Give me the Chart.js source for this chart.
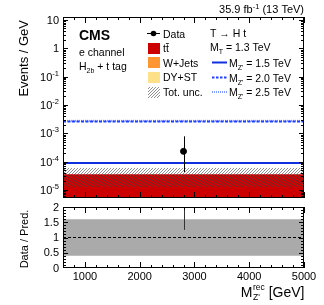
<!DOCTYPE html>
<html>
<head>
<meta charset="utf-8">
<script src="https://cdn.jsdelivr.net/npm/chart.js@4.4.0/dist/chart.umd.min.js"></script>
<style>
  html, body { margin: 0; padding: 0; background: #fff; }
  #wrap { position: relative; width: 324px; height: 305px; }
  #mainCanvas { position: absolute; left: 0; top: 0; }
  #ratioCanvas { position: absolute; left: 0; top: 203px; }
</style>
</head>
<body>
<div id="wrap">
  <canvas id="mainCanvas" width="324" height="203"></canvas>
  <canvas id="ratioCanvas" width="324" height="102"></canvas>
</div>
<script>
// binning (single bin) and values in events / GeV
var binEdges = [600, 5000];
var dyst = [5.4e-6];
var wjets = [1.0e-7];
var ttbar = [3.05e-5];
var uncLow = [1.27e-5];
var uncHigh = [5.9e-5];
var sig1500 = [8.9e-5];
var sig2000 = [2.6e-3];
var sig2500 = [2.75e-3];

var dataX = [2800];
var dataY = [2.3e-4];
var dataErrLo = [4.3e-5];
var dataErrHi = [7.8e-4];

var ratioY = [6.0];
var ratioErrLo = [1.25];
var ratioBandLo = [0.4];
var ratioBandHi = [1.6];

var yTickValues = [1e-5, 1e-4, 1e-3, 1e-2, 1e-1, 1, 10];
var yTickExp = ["-5", "-4", "-3", "-2", "-1", "", ""];
var yTickBase = ["10", "10", "10", "10", "10", "1", "10"];
var xTickValues = [1000, 2000, 3000, 4000, 5000];
var xTickLabels = ["1000", "2000", "3000", "4000", "5000"];
var rTickValues = [0, 0.5, 1, 1.5, 2];
var rTickLabels = ["0", "0.5", "1", "1.5", "2"];

var FONT = "'Liberation Sans', Arial, sans-serif";
Chart.defaults.font.family = FONT;
Chart.defaults.color = "#000";

function histPoints(vals) {
	var pts = [];
	for (var i = 0; i < vals.length; i++) {
		pts.push({x: binEdges[i], y: vals[i]});
		pts.push({x: binEdges[i + 1], y: vals[i]});
	}
	return pts;
}
function addArr(a, b) {
	return a.map(function(v, i){ return v + b[i]; });
}

var cumDy = dyst;
var cumW = addArr(cumDy, wjets);
var cumTt = addArr(cumW, ttbar);

// hatch pattern for total uncertainty
var pc = document.createElement('canvas');
pc.width = 3; pc.height = 3;
var pctx = pc.getContext('2d');
pctx.fillStyle = 'rgba(70,70,70,0.6)';
pctx.fillRect(0, 2, 1, 1);
pctx.fillRect(1, 1, 1, 1);
pctx.fillRect(2, 0, 1, 1);
var hatch = document.getElementById('mainCanvas').getContext('2d').createPattern(pc, 'repeat');

function drawSeg(ctx, parts, x, y, align) {
	var w = 0;
	parts.forEach(function(p){ ctx.font = p.font; w += ctx.measureText(p.t).width; });
	var cx = align === 'right' ? x - w : (align === 'center' ? x - w / 2 : x);
	ctx.textAlign = 'left';
	ctx.textBaseline = 'alphabetic';
	parts.forEach(function(p){
		ctx.font = p.font;
		ctx.fillText(p.t, cx, y + (p.dy || 0));
		cx += ctx.measureText(p.t).width;
	});
	return w;
}

// ROOT style inside ticks and frame
function frameTicks(chart, xMajor, xMinor, yMajor, yMinor, lenMaj, lenMin) {
	var ctx = chart.ctx, a = chart.chartArea;
	var xs = chart.scales.x, ys = chart.scales.y;
	ctx.save();
	ctx.strokeStyle = '#000';
	ctx.lineWidth = 1;
	ctx.beginPath();
	xMinor.forEach(function(v){
		var px = Math.round(xs.getPixelForValue(v)) + 0.5;
		var L = xMajor.indexOf(v) >= 0 ? lenMaj : lenMin;
		ctx.moveTo(px, a.bottom); ctx.lineTo(px, a.bottom - L);
		ctx.moveTo(px, a.top); ctx.lineTo(px, a.top + L);
	});
	yMinor.forEach(function(v){
		var py = Math.round(ys.getPixelForValue(v)) + 0.5;
		if (py < a.top || py > a.bottom) return;
		var L = yMajor.indexOf(v) >= 0 ? lenMaj - 1 : lenMin;
		ctx.moveTo(a.left, py); ctx.lineTo(a.left + L, py);
		ctx.moveTo(a.right, py); ctx.lineTo(a.right - L, py);
	});
	ctx.stroke();
	ctx.strokeRect(Math.round(a.left) + 0.5, Math.round(a.top) + 0.5, Math.round(a.right - a.left) - 1, Math.round(a.bottom - a.top) - 1);
	ctx.restore();
}

var xMinorTicks = [];
for (var v = 600; v <= 5000; v += 200) xMinorTicks.push(v);
var yMinorTicks = [];
for (var d = -6; d <= 1; d++) for (var m = 1; m <= 9; m++) yMinorTicks.push(parseFloat((m * Math.pow(10, d)).toPrecision(3)));
var yMajorTicks = yTickValues.map(function(v){ return parseFloat(v.toPrecision(3)); });
var rMinorTicks = [];
for (var r = 0; r <= 20; r++) rMinorTicks.push(r / 10);

var mainPlugin = {
	id: 'mainDeco',
	afterDatasetsDraw: function(chart) {
		var ctx = chart.ctx, xs = chart.scales.x, ys = chart.scales.y;
		ctx.save();
		ctx.strokeStyle = '#000';
		ctx.lineWidth = 1;
		for (var i = 0; i < dataX.length; i++) {
			var px = Math.round(xs.getPixelForValue(dataX[i])) + 0.5;
			ctx.beginPath();
			ctx.moveTo(px, ys.getPixelForValue(dataErrLo[i]));
			ctx.lineTo(px, ys.getPixelForValue(dataErrHi[i]));
			ctx.stroke();
		}
		ctx.restore();
	},
	afterDraw: function(chart) {
		var ctx = chart.ctx, ys = chart.scales.y, a = chart.chartArea;
		frameTicks(chart, xTickValues, xMinorTicks, yMajorTicks, yMinorTicks, 6, 3);
		ctx.save();
		ctx.fillStyle = '#000';
		var f = FONT;
		// y tick labels from the log scale
		yTickValues.forEach(function(v, i){
			var py = ys.getPixelForValue(v);
			var parts = [{t: yTickBase[i], font: '11px ' + f}];
			if (yTickExp[i]) parts.push({t: yTickExp[i], font: '7.5px ' + f, dy: -5});
			drawSeg(ctx, parts, a.left - 4, py + 4, 'right');
		});
		// lumi label
		drawSeg(ctx, [
			{t: '35.9 fb', font: '11px ' + f},
			{t: '-1', font: '7.5px ' + f, dy: -4},
			{t: ' (13 TeV)', font: '11px ' + f}
		], 304, 13, 'right');
		// CMS
		ctx.font = 'bold 14px ' + f;
		ctx.fillText('CMS', 79, 40);
		ctx.font = '10.5px ' + f;
		ctx.fillText('e channel', 79, 56);
		drawSeg(ctx, [
			{t: 'H', font: '10.5px ' + f},
			{t: '2b', font: '7px ' + f, dy: 2.5},
			{t: ' + t tag', font: '10.5px ' + f}
		], 79, 70, 'left');
		// y title
		ctx.save();
		ctx.translate(28, 17);
		ctx.rotate(-Math.PI / 2);
		ctx.font = '13px ' + f;
		ctx.textAlign = 'right';
		ctx.fillText('Events / GeV', -3, 0);
		ctx.restore();
		// legend left column
		var lf = '10.5px ' + f;
		ctx.strokeStyle = '#000';
		ctx.lineWidth = 1;
		ctx.beginPath();
		ctx.moveTo(147, 33.5); ctx.lineTo(160, 33.5);
		ctx.stroke();
		ctx.beginPath();
		ctx.arc(153.5, 33.5, 2.8, 0, Math.PI * 2);
		ctx.fill();
		ctx.fillStyle = '#cc0000'; ctx.fillRect(148, 43, 12, 11);
		ctx.fillStyle = '#ff9632'; ctx.fillRect(148, 57, 12, 11);
		ctx.fillStyle = '#ffe08a'; ctx.fillRect(148, 72, 12, 11);
		ctx.fillStyle = hatch; ctx.fillRect(148, 87, 12, 11);
		ctx.fillStyle = '#000';
		ctx.font = lf;
		ctx.fillText('Data', 163, 37.5);
		ctx.fillText('tt', 163, 52);
		var tw = ctx.measureText('t').width;
		ctx.fillRect(163 + tw, 43, tw, 0.8);
		ctx.fillText('W+Jets', 163, 66.5);
		ctx.fillText('DY+ST', 163, 81);
		ctx.fillText('Tot. unc.', 163, 96);
		// legend right column
		ctx.fillText('T \u2192 H t', 210, 37);
		drawSeg(ctx, [
			{t: 'M', font: lf},
			{t: 'T', font: '7px ' + f, dy: 2.5},
			{t: ' = 1.3 TeV', font: lf}
		], 210, 51, 'left');
		var sig = [
			{y: 62.5, dash: [], col: '#1030e0', lab: '1.5'},
			{y: 77.5, dash: [2.5, 1.5], col: '#2040ff', lab: '2.0'},
			{y: 92, dash: [1, 1], col: '#7f9cff', lab: '2.5'}
		];
		sig.forEach(function(s){
			ctx.strokeStyle = s.col;
			ctx.lineWidth = 2;
			ctx.setLineDash(s.dash);
			ctx.beginPath();
			ctx.moveTo(212, s.y); ctx.lineTo(227, s.y);
			ctx.stroke();
			ctx.setLineDash([]);
			ctx.fillStyle = '#000';
			drawSeg(ctx, [
				{t: 'M', font: lf},
				{t: "Z'", font: '7px ' + f, dy: 3},
				{t: ' = ' + s.lab + ' TeV', font: lf}
			], 229, s.y + 4, 'left');
		});
		ctx.restore();
	}
};

var ratioPlugin = {
	id: 'ratioDeco',
	afterDatasetsDraw: function(chart) {
		var ctx = chart.ctx, xs = chart.scales.x, ys = chart.scales.y, a = chart.chartArea;
		ctx.save();
		ctx.beginPath();
		ctx.rect(a.left, a.top, a.right - a.left, a.bottom - a.top);
		ctx.clip();
		ctx.strokeStyle = '#333';
		ctx.lineWidth = 1;
		for (var i = 0; i < dataX.length; i++) {
			var px = Math.round(xs.getPixelForValue(dataX[i])) + 0.5;
			ctx.beginPath();
			ctx.moveTo(px, ys.getPixelForValue(ratioErrLo[i]));
			ctx.lineTo(px, ys.getPixelForValue(ratioY[i]));
			ctx.stroke();
		}
		ctx.restore();
	},
	afterDraw: function(chart) {
		var ctx = chart.ctx, xs = chart.scales.x, ys = chart.scales.y, a = chart.chartArea;
		frameTicks(chart, xTickValues, xMinorTicks, rTickValues, rMinorTicks, 6, 3);
		var f = FONT;
		ctx.save();
		ctx.fillStyle = '#000';
		ctx.font = '11px ' + f;
		ctx.textAlign = 'right';
		ctx.textBaseline = 'middle';
		rTickValues.forEach(function(v, i){
			ctx.fillText(rTickLabels[i], a.left - 4, ys.getPixelForValue(v) + 0.5);
		});
		ctx.textAlign = 'center';
		ctx.textBaseline = 'top';
		xTickValues.forEach(function(v, i){
			ctx.fillText(xTickLabels[i], xs.getPixelForValue(v), a.bottom + 3);
		});
		ctx.restore();
		ctx.save();
		ctx.fillStyle = '#000';
		ctx.translate(28, 36);
		ctx.rotate(-Math.PI / 2);
		ctx.font = '11px ' + f;
		ctx.textAlign = 'center';
		ctx.fillText('Data / Pred.', 0, 0);
		ctx.restore();
		ctx.save();
		ctx.fillStyle = '#000';
		// x title: M_{Z'}^{rec} [GeV], right aligned
		ctx.font = '14px ' + f;
		var wM = ctx.measureText('M').width;
		var wG = ctx.measureText(' [GeV]').width;
		ctx.font = '8.5px ' + f;
		var wS = Math.max(ctx.measureText('rec').width, ctx.measureText("Z'").width);
		var x0 = 304 - wG - wS - wM;
		var yb = 94;
		ctx.font = '14px ' + f;
		ctx.fillText('M', x0, yb);
		ctx.font = '8.5px ' + f;
		ctx.fillText('rec', x0 + wM + 0.5, yb - 7);
		ctx.fillText("Z'", x0 + wM + 0.5, yb + 3);
		ctx.font = '14px ' + f;
		ctx.fillText(' [GeV]', x0 + wM + wS + 0.5, yb);
		ctx.restore();
	}
};

var mainChart = new Chart(document.getElementById('mainCanvas'), {
	type: 'line',
	data: {
		datasets: [
			{ label: 'Data', data: dataX.map(function(x, i){ return {x: x, y: dataY[i]}; }),
			  showLine: false, pointRadius: 3, pointBackgroundColor: '#000', pointBorderColor: '#000', fill: false },
			{ label: 'MZ 1.5', data: histPoints(sig1500), borderColor: '#1030e0', borderWidth: 2, pointRadius: 0, fill: false },
			{ label: 'MZ 2.0', data: histPoints(sig2000), borderColor: '#2040ff', borderWidth: 2, borderDash: [3, 1.5], pointRadius: 0, fill: false },
			{ label: 'MZ 2.5', data: histPoints(sig2500), borderColor: '#7f9cff', borderWidth: 2, borderDash: [1, 1], pointRadius: 0, fill: false },
			{ label: 'unc hi', data: histPoints(uncHigh), borderWidth: 0, pointRadius: 0, backgroundColor: hatch, fill: '+1' },
			{ label: 'unc lo', data: histPoints(uncLow), borderWidth: 0, pointRadius: 0, fill: false },
			{ label: 'ttbar', data: histPoints(cumTt), borderWidth: 0, pointRadius: 0, backgroundColor: '#cc0000', fill: '+1' },
			{ label: 'W+Jets', data: histPoints(cumW), borderWidth: 0, pointRadius: 0, backgroundColor: '#ff9632', fill: '+1' },
			{ label: 'DY+ST', data: histPoints(cumDy), borderWidth: 0, pointRadius: 0, backgroundColor: '#ffe08a', fill: 'start' }
		]
	},
	options: {
		responsive: false,
		animation: false,
		devicePixelRatio: 1,
		elements: { line: { tension: 0 } },
		layout: { padding: { left: 0, right: 20, top: 17, bottom: 4 } },
		plugins: { legend: { display: false }, tooltip: { enabled: false } },
		scales: {
			x: { type: 'linear', min: 600, max: 5000, display: false },
			y: {
				type: 'logarithmic', min: 5.2e-6, max: 12.7,
				grid: { display: false, drawTicks: false },
				border: { display: false },
				afterFit: function(s){ s.width = 63; },
				ticks: { display: false }
			}
		}
	},
	plugins: [mainPlugin]
});

var ratioChart = new Chart(document.getElementById('ratioCanvas'), {
	type: 'line',
	data: {
		datasets: [
			{ label: 'one', data: [{x: 600, y: 1}, {x: 5000, y: 1}], borderColor: '#000', borderWidth: 1, borderDash: [3, 2], pointRadius: 0, fill: false },
			{ label: 'band hi', data: histPoints(ratioBandHi), borderWidth: 0, pointRadius: 0, backgroundColor: '#aaaaaa', fill: '+1' },
			{ label: 'band lo', data: histPoints(ratioBandLo), borderWidth: 0, pointRadius: 0, fill: false }
		]
	},
	options: {
		responsive: false,
		animation: false,
		devicePixelRatio: 1,
		elements: { line: { tension: 0 } },
		layout: { padding: { left: 0, right: 20, top: 4, bottom: 37 } },
		plugins: { legend: { display: false }, tooltip: { enabled: false } },
		scales: {
			x: { type: 'linear', min: 600, max: 5000, display: false },
			y: {
				type: 'linear', min: 0, max: 2,
				grid: { display: false, drawTicks: false },
				border: { display: false },
				afterFit: function(s){ s.width = 63; },
				ticks: { display: false }
			}
		}
	},
	plugins: [ratioPlugin]
});
</script>
</body>
</html>
